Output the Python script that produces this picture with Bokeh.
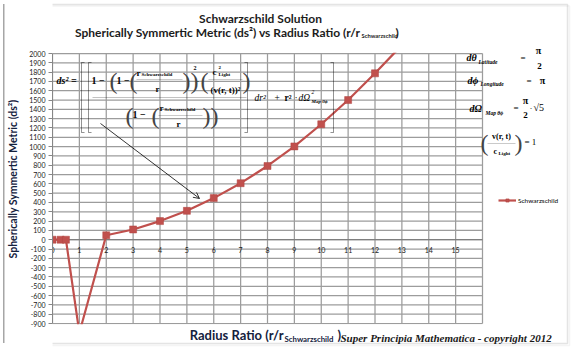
from bokeh.plotting import figure
from bokeh.models import (Range1d, FixedTicker, Label, BoxAnnotation, PolyAnnotation,
                          Arrow, OpenHead, Legend, LegendItem, ColumnDataSource)
from bokeh.core.properties import value
from bokeh.embed import file_html
from bokeh.resources import INLINE

# ---- data ----
radius_ratio = [0, 0.3, 0.5, 1, 2, 3, 4, 5, 6, 7, 8, 9, 10, 11, 12, 13]
ds_squared = [0, 0, 0, -1000, 48, 110, 200, 310, 447, 607, 792, 1002, 1240, 1500, 1787, 2090]
x_tick_values = list(range(0, 16))
x_tick_labels = [str(v) for v in x_tick_values]
x_grid_values = list(range(0, 17))
y_ticks = list(range(-900, 2001, 100))
series_name = "Schwarzschild"

X_MIN, X_MAX = 0, 16
Y_MIN, Y_MAX = -900, 2000

# ---- layout geometry (pixels) ----
W, H = 573, 357
FRAME_L = 52          # left panel holds the y axis
PLOT_R, PLOT_T, PLOT_B = 482, 53, 323
xs_px = (PLOT_R - FRAME_L) / (X_MAX - X_MIN)
ys_px = (PLOT_B - PLOT_T) / (Y_MAX - Y_MIN)
x_range = Range1d(X_MIN, X_MAX + (W - PLOT_R) / xs_px)
y_range = Range1d(Y_MIN - (H - PLOT_B) / ys_px, Y_MAX + PLOT_T / ys_px)

p = figure(width=W, height=H, output_backend="svg", toolbar_location=None,
           x_range=x_range, y_range=y_range,
           min_border_left=FRAME_L, min_border_right=0, min_border_top=0, min_border_bottom=0)
p.background_fill_color = None
p.border_fill_color = None
p.outline_line_color = None
p.xaxis.visible = False
p.grid.visible = False
# left edge of the chart-area border (lies in the axis panel)
p.styles = {"background-image": "linear-gradient(#A6A6A6, #A6A6A6)",
            "background-size": "1.5px 339px", "background-position": "3px 4px",
            "background-repeat": "no-repeat", "background-color": "white"}

ax = p.yaxis[0]
ax.ticker = FixedTicker(ticks=y_ticks)
ax.bounds = (Y_MIN, Y_MAX)
ax.major_label_overrides = {t: str(t) for t in y_ticks}
ax.major_label_text_font = "Lato"
ax.major_label_text_font_size = "7px"
ax.major_label_text_color = "#1a1a1a"
ax.major_tick_out = 4
ax.major_tick_in = 0
ax.minor_tick_line_color = None
ax.major_label_standoff = 3
ax.axis_line_color = "#868686"
ax.major_tick_line_color = "#868686"
ax.axis_label = "Spherically Symmertic Metric (ds²)"
ax.axis_label_text_font = "Lato"
ax.axis_label_text_font_style = "bold"
ax.axis_label_text_font_size = "10.5px"
ax.axis_label_text_color = "#14213D"
ax.axis_label_standoff = 7

# grid of the plot area, from the tick lists
GC = "#9C9C9C"
p.segment(x0=[X_MIN] * len(y_ticks), x1=[X_MAX] * len(y_ticks), y0=y_ticks, y1=y_ticks,
          line_color=GC, line_width=1.25)
p.segment(x0=x_grid_values, x1=x_grid_values, y0=[Y_MIN] * len(x_grid_values),
          y1=[Y_MAX] * len(x_grid_values), line_color=GC, line_width=1.25)
p.segment(x0=[X_MIN], x1=[X_MAX], y0=[0], y1=[0], line_color="#7F7F7F", line_width=1.25)

src = ColumnDataSource(dict(r=radius_ratio, ds2=ds_squared))
ln = p.line("r", "ds2", source=src, line_color="#C0504D", line_width=2.2)
pts = p.scatter("r", "ds2", source=src, marker="square", size=7,
                fill_color="#C0504D", line_color="#B04440", line_width=0.5)

p.text(x=x_tick_values, y=[0] * len(x_tick_values), text=x_tick_labels,
       text_font=value("Lato"), text_font_size="7px", text_align="center",
       text_baseline="middle", y_offset=10, text_color="#1a1a1a")

# masks: the plot area clips the series
p.add_layout(BoxAnnotation(bottom=Y_MAX + 0.8 / ys_px, fill_color="white", fill_alpha=1, line_color=None))
p.add_layout(BoxAnnotation(top=Y_MIN - 0.8 / ys_px, fill_color="white", fill_alpha=1, line_color=None))

legend = Legend(items=[LegendItem(label=series_name, renderers=[ln, pts])],
                location=(498 - FRAME_L, H - 204), padding=0, margin=0, spacing=0,
                border_line_color=None, background_fill_alpha=0,
                glyph_width=18, glyph_height=8, label_height=8, label_standoff=2,
                label_text_font="Lato", label_text_font_size="6.5px", label_text_color="black")
p.add_layout(legend)


def lab(x, y, s, size, font="Liberation Serif", style="normal", align="left", color="black", angle=0.0):
    p.add_layout(Label(x=x, y=y, x_units="canvas", y_units="canvas", text=s,
                       text_font=font, text_font_size=f"{size}px", text_font_style=style,
                       text_align=align, text_baseline="middle", text_color=color, angle=angle))


def path(xs, ys, color="black", width=0.8):
    px = list(xs) + list(xs[-2:0:-1])
    py = list(ys) + list(ys[-2:0:-1])
    p.add_layout(PolyAnnotation(xs=px, ys=py, xs_units="canvas", ys_units="canvas",
                                fill_alpha=0, line_color=color, line_width=width))


# chart-area border (top, right, bottom edges)
p.add_layout(BoxAnnotation(left=4.5, right=569, top=5.5, bottom=345, left_units="canvas", right_units="canvas",
                           top_units="canvas", bottom_units="canvas", fill_alpha=0,
                           line_color="#DADADA", line_width=1.5))
p.add_layout(BoxAnnotation(left=3, right=567, top=4, bottom=343, left_units="canvas", right_units="canvas",
                           top_units="canvas", bottom_units="canvas", fill_alpha=0,
                           line_color="#A6A6A6", line_width=1.5))

# titles
TC = "#1c1c1c"
lab(260, 18, "Schwarzschild Solution", 12, font="Lato", style="bold", align="center", color=TC)
lab(360, 32, "Spherically Symmertic Metric (ds²) vs Radius Ratio (r/r", 12, font="Lato", style="bold", align="right", color=TC)
lab(361, 35, "Schwarzschild", 5.8, font="Lato", style="bold", color=TC)
lab(395, 32, ")", 12, font="Lato", style="bold", color=TC)

AC = "#14213D"
lab(283, 334, "Radius Ratio (r/r", 13, font="Lato", style="bold", align="right", color=AC)
lab(284, 338, "Schwarzschild", 7.8, font="Lato", style="bold", color=AC)
lab(337, 334, ")", 13, font="Lato", style="bold", color=AC)

lab(340, 337, "Super Principia Mathematica - copyright 2012", 11, style="bold italic", color="#1a1a1a")

# main equation
PC = "#444444"
lab(56, 80, "ds² =", 10, style="bold italic")
for bx in (81, 88):
    path([bx + 3, bx, bx, bx + 3], [62, 62, 132, 132])
for bx in (247, 333):
    path([bx - 3, bx, bx, bx - 3], [62, 62, 132, 132])
lab(91, 80, "1 −", 10, style="bold")
lab(109, 80, "(", 24, color=PC)
lab(116, 80, "1 −", 10, style="bold")
lab(129, 80, "(", 24, color=PC)
lab(136, 72, "r", 9, style="bold")
lab(141, 74, "Schwarzschild", 5, style="bold")
path([136, 182], [79, 79], width=0.7)
lab(157, 88, "r", 9, style="bold", align="center")
lab(182, 80, "))", 24, color=PC)
lab(193, 67, "2", 6, style="bold")
lab(196, 80, "·", 9)
lab(200, 80, "(", 24, color=PC)
lab(212, 71, "c", 9, style="bold")
lab(218, 67, "2", 5, style="bold")
lab(218, 74, "Light", 5, style="bold")
path([208, 242], [79, 79], width=0.7)
lab(225, 89, "(v(r, t))²", 9, style="bold", align="center")
lab(242, 80, ")", 24, color=PC)
path([92, 246], [97, 97], width=0.8)
lab(125, 115, "(", 24, color=PC)
lab(132, 114, "1 −", 10, style="bold")
lab(151, 115, "(", 24, color=PC)
lab(159, 107, "r", 9, style="bold")
lab(164, 109, "Schwarzschild", 5, style="bold")
path([158, 202], [115, 115], width=0.7)
lab(178, 123, "r", 9, style="bold", align="center")
lab(202, 115, "))", 24, color=PC)
lab(254, 97, "dr²", 9.5, style="italic")
lab(274, 97, "+", 9.5)
lab(284, 97, "r²", 9.5, style="bold")
lab(294, 97, "·", 9.5)
lab(298, 97, "dΩ", 9.5, style="italic")
lab(311, 91, "2", 5.5, style="italic")
lab(311, 101, "Map θϕ", 5, style="bold italic")

p.add_layout(Arrow(x_start=100, y_start=123, x_end=199, y_end=198, start_units="canvas", end_units="canvas",
                   end=OpenHead(size=6, line_width=0.8, line_color="black"), line_width=0.8, line_color="black"))

# right-side formulas
lab(466, 57, "dθ", 10, style="bold italic")
lab(478, 61, "Latitude", 5.5, style="bold italic")
lab(520, 57, "=", 9)
lab(538, 50, "π", 10, style="bold", align="center")
lab(539, 65, "2", 9, style="bold", align="center")
lab(467, 80, "dϕ", 10, style="bold italic")
lab(480, 83, "Longitude", 5.5, style="bold italic")
lab(526, 80, "=", 9)
lab(542, 80, "π", 10, style="bold", align="center")
lab(469, 108, "dΩ", 10, style="bold italic")
lab(485, 112, "Map θϕ", 5.5, style="bold italic")
lab(513, 107, "=", 9)
lab(525, 100, "π", 10, style="bold", align="center")
lab(525, 114, "2", 9, style="bold", align="center")
lab(529, 107, "·", 9)
lab(533, 107, "√5", 10)
lab(480, 142, "(", 24, color=PC)
lab(501, 136, "v(r, t)", 8, style="bold", align="center")
path([487, 515], [143, 143], width=0.7)
lab(493, 151, "c", 8, style="bold")
lab(498, 153, "Light", 5, style="bold")
lab(514, 142, ")", 24, color=PC)
lab(524, 141, "= 1", 9)

open("out.html", "w").write(file_html(p, INLINE))
